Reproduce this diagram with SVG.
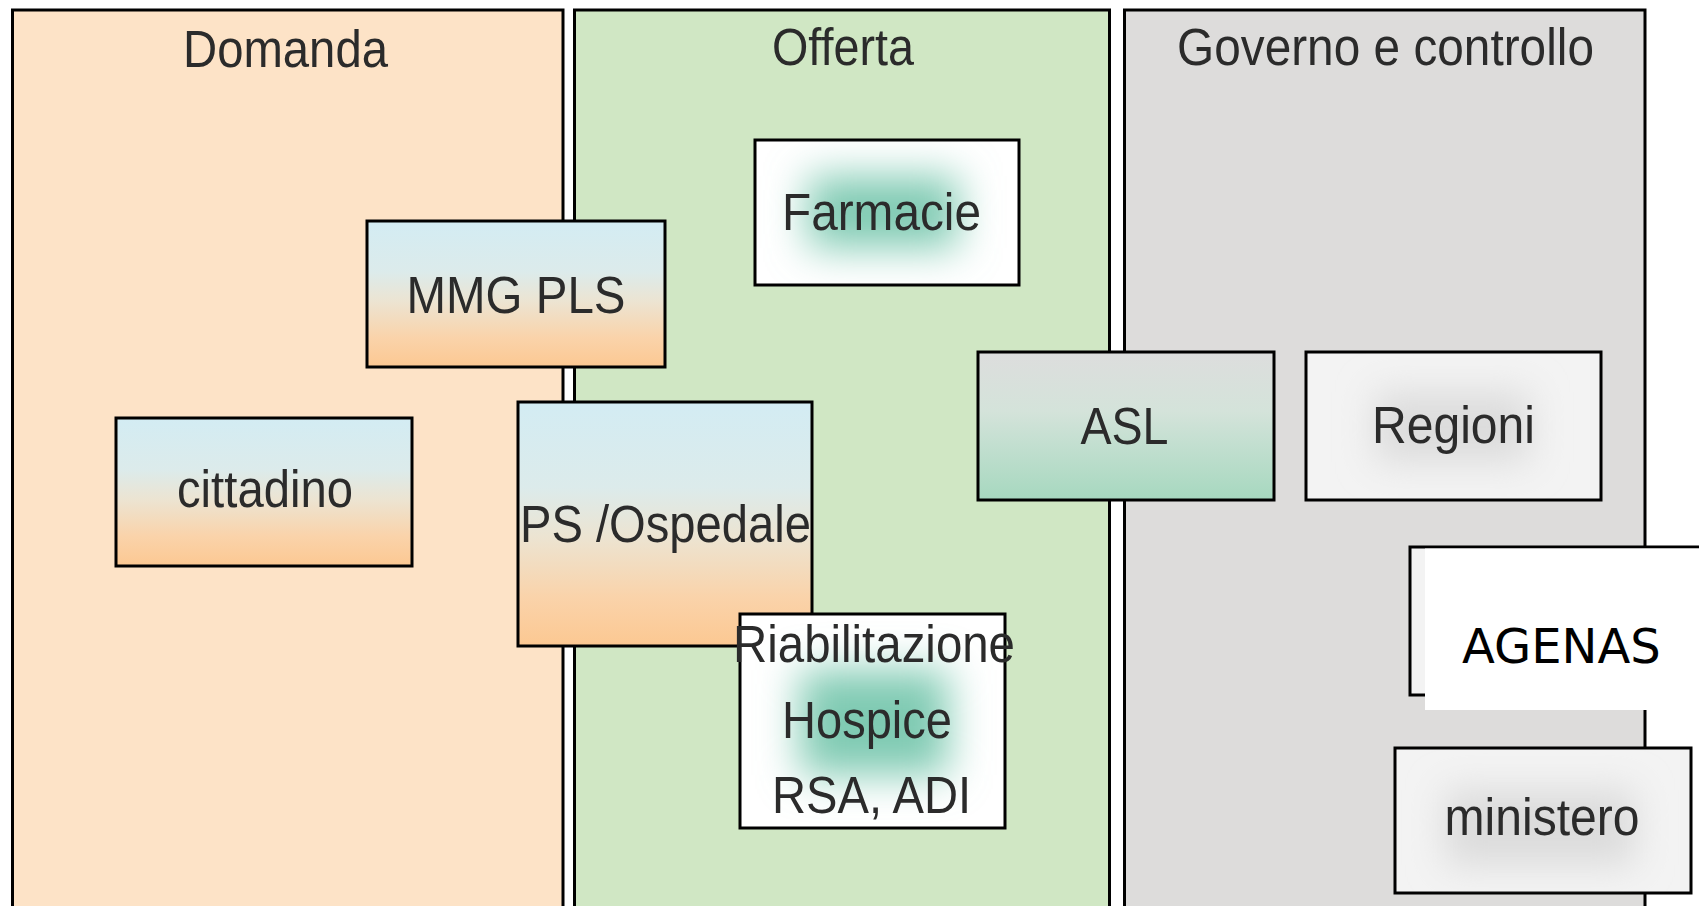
<svg xmlns="http://www.w3.org/2000/svg" width="1699" height="906" viewBox="0 0 1699 906">
  <defs>
    <style>
      .panel { stroke: #000; stroke-width: 3; }
      .box { stroke: #000; stroke-width: 3; }
      .lbl { font-family: "Liberation Sans", Arial, sans-serif; font-size: 51px; fill: #2b2b2b; }
      .lbl2 { font-family: "DejaVu Sans", sans-serif; font-size: 48px; fill: #000; }
    </style>
    <!-- blue-to-peach fill of the demand-side boxes -->
    <linearGradient id="gBluePeach" x1="0" y1="0" x2="0" y2="1">
      <stop offset="0" stop-color="#d3ecf3"/>
      <stop offset="0.35" stop-color="#dcebeb"/>
      <stop offset="0.55" stop-color="#ece4d2"/>
      <stop offset="0.8" stop-color="#fad3aa"/>
      <stop offset="1" stop-color="#fcc892"/>
    </linearGradient>
    <!-- grey-to-mint fill of ASL -->
    <linearGradient id="gGreyMint" x1="0" y1="0" x2="0" y2="1">
      <stop offset="0" stop-color="#dddddd"/>
      <stop offset="0.4" stop-color="#d4e3da"/>
      <stop offset="1" stop-color="#a6d8bf"/>
    </linearGradient>
    <filter id="soft" x="-100%" y="-100%" width="300%" height="300%">
      <feGaussianBlur stdDeviation="20"/>
    </filter>
    <filter id="softGrey" x="-100%" y="-100%" width="300%" height="300%">
      <feGaussianBlur stdDeviation="18"/>
    </filter>
    <clipPath id="cFarm"><rect x="755" y="140" width="264" height="145"/></clipPath>
    <clipPath id="cRiab"><rect x="740" y="614" width="265" height="214"/></clipPath>
    <clipPath id="cReg"><rect x="1306" y="352" width="295" height="148"/></clipPath>
    <clipPath id="cMin"><rect x="1395" y="748" width="296" height="145"/></clipPath>
  </defs>

  <rect x="0" y="0" width="1699" height="906" fill="#ffffff"/>

  <!-- column panels -->
  <g id="panel-domanda">
    <rect class="panel" x="12.5" y="10" width="550.5" height="920" fill="#fde3c7"/>
    <text class="lbl" x="183" y="67" textLength="205" lengthAdjust="spacingAndGlyphs">Domanda</text>
  </g>
  <g id="panel-offerta">
    <rect class="panel" x="574.5" y="10" width="535" height="920" fill="#d0e7c4"/>
    <text class="lbl" x="772" y="65" textLength="142" lengthAdjust="spacingAndGlyphs">Offerta</text>
  </g>
  <g id="panel-governo">
    <rect class="panel" x="1124.5" y="10" width="520.5" height="920" fill="#dddcdb"/>
    <text class="lbl" x="1177" y="65" textLength="417" lengthAdjust="spacingAndGlyphs">Governo e controllo</text>
  </g>

  <!-- nodes -->
  <g id="node-mmg">
    <rect class="box" x="367" y="221" width="298" height="146" fill="url(#gBluePeach)"/>
    <text class="lbl" x="406.5" y="313" textLength="219" lengthAdjust="spacingAndGlyphs">MMG PLS</text>
  </g>
  <g id="node-cittadino">
    <rect class="box" x="116" y="418" width="296" height="148" fill="url(#gBluePeach)"/>
    <text class="lbl" x="177" y="507" textLength="176" lengthAdjust="spacingAndGlyphs">cittadino</text>
  </g>
  <g id="node-ospedale">
    <rect class="box" x="518" y="402" width="294" height="244" fill="url(#gBluePeach)"/>
    <text class="lbl" x="520" y="542" textLength="291" lengthAdjust="spacingAndGlyphs">PS /Ospedale</text>
  </g>
  <g id="node-farmacie">
    <rect class="box" x="755" y="140" width="264" height="145" fill="#ffffff"/>
    <g clip-path="url(#cFarm)">
      <rect x="808" y="176" width="150" height="72" fill="#7fcab2" filter="url(#soft)"/>
    </g>
    <text class="lbl" x="782" y="230" textLength="199" lengthAdjust="spacingAndGlyphs">Farmacie</text>
  </g>
  <g id="node-riabilitazione">
    <rect class="box" x="740" y="614" width="265" height="214" fill="#ffffff"/>
    <g clip-path="url(#cRiab)">
      <rect x="800" y="670" width="148" height="105" fill="#7fcab2" filter="url(#soft)"/>
    </g>
    <text class="lbl" x="733" y="662" textLength="282" lengthAdjust="spacingAndGlyphs">Riabilitazione</text>
    <text class="lbl" x="782" y="738" textLength="170" lengthAdjust="spacingAndGlyphs">Hospice</text>
    <text class="lbl" x="772" y="813" textLength="199" lengthAdjust="spacingAndGlyphs">RSA, ADI</text>
  </g>
  <g id="node-asl">
    <rect class="box" x="978" y="352" width="296" height="148" fill="url(#gGreyMint)"/>
    <text class="lbl" x="1080.5" y="444" textLength="88" lengthAdjust="spacingAndGlyphs">ASL</text>
  </g>
  <g id="node-regioni">
    <rect class="box" x="1306" y="352" width="295" height="148" fill="#f3f3f3"/>
    <g clip-path="url(#cReg)">
      <rect x="1375" y="392" width="155" height="70" fill="#dcdcdc" filter="url(#softGrey)"/>
    </g>
    <text class="lbl" x="1372" y="443" textLength="163" lengthAdjust="spacingAndGlyphs">Regioni</text>
  </g>
  <g id="node-agenas">
    <rect class="box" x="1410" y="547" width="400" height="148" fill="#f3f3f3"/>
    <rect x="1425" y="548.5" width="300" height="161.5" fill="#ffffff"/>
    <text class="lbl2" x="1462" y="663">AGENAS</text>
  </g>
  <g id="node-ministero">
    <rect class="box" x="1395" y="748" width="296" height="145" fill="#f3f3f3"/>
    <g clip-path="url(#cMin)">
      <rect x="1445" y="790" width="190" height="75" fill="#dbdbdb" filter="url(#softGrey)"/>
    </g>
    <text class="lbl" x="1444.5" y="835" textLength="195" lengthAdjust="spacingAndGlyphs">ministero</text>
  </g>

  <!-- connectors: none drawn in this layout -->
  <g id="connectors"/>
</svg>
